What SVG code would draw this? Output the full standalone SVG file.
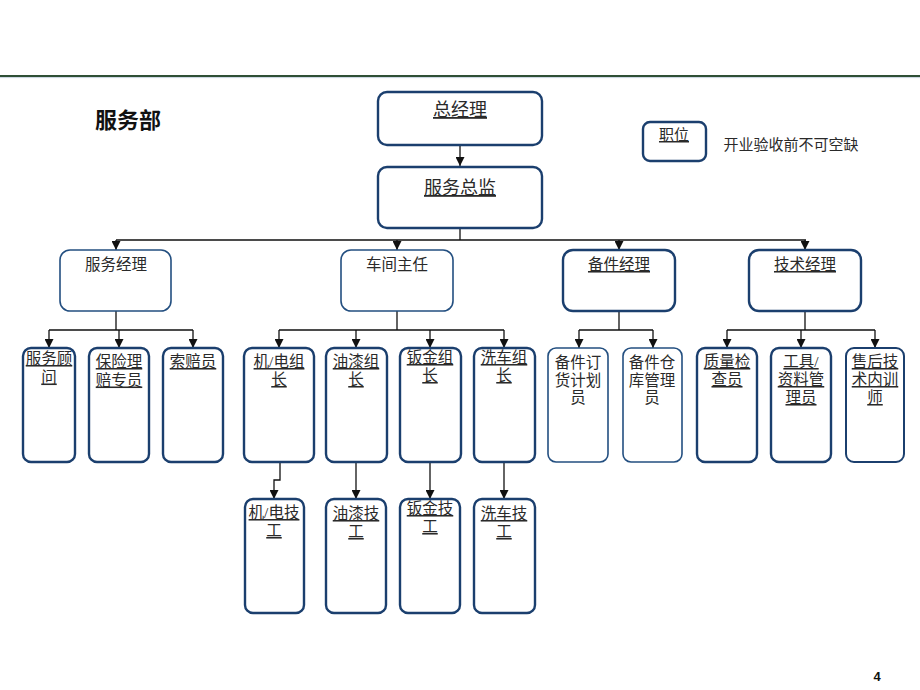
<svg xmlns="http://www.w3.org/2000/svg" width="920" height="690" viewBox="0 0 920 690">
<style>
.bx{fill:#fff;stroke:#1b3f6e;stroke-width:2.4}
.bt{fill:#fff;stroke:#234f80;stroke-width:1.6}
.t{font-family:"Liberation Serif","Noto Sans CJK SC",serif;font-size:15.5px;fill:#2a2a2a;text-anchor:middle}
.u{text-decoration:underline}
.big{font-size:18px}
.c{fill:none;stroke:#111;stroke-width:1.3}
</style>
<defs>
<marker id="ah" viewBox="0 0 10 10" refX="10" refY="5" markerWidth="9" markerHeight="9" markerUnits="userSpaceOnUse" orient="auto">
<path d="M0,0 L10,5 L0,10 z" fill="#111"/>
</marker>
</defs>
<rect width="920" height="690" fill="#fff"/>
<line x1="0" y1="76" x2="920" y2="76" stroke="#2f4f35" stroke-width="2"/>
<line x1="0" y1="77.6" x2="920" y2="77.6" stroke="#b8c6d6" stroke-width="0.8"/>
<text x="128" y="128" style="font-family:'Liberation Sans','Noto Sans CJK SC',sans-serif;font-size:22px;font-weight:bold;fill:#111;text-anchor:middle">服务部</text>
<text x="877" y="681" style="font-family:'Liberation Sans',sans-serif;font-size:13px;font-weight:bold;fill:#111;text-anchor:middle">4</text>

<g id="connectors">
<path class="c" d="M460,145 V166" marker-end="url(#ah)"/>
<path class="c" d="M460,228 V240 M116,240 H806"/>
<path class="c" d="M116,240 V250" marker-end="url(#ah)"/>
<path class="c" d="M397,240 V250" marker-end="url(#ah)"/>
<path class="c" d="M619,240 V250" marker-end="url(#ah)"/>
<path class="c" d="M805,240 V250" marker-end="url(#ah)"/>
<path class="c" d="M116,311 V330 M49,330 H193"/>
<path class="c" d="M49,330 V348" marker-end="url(#ah)"/>
<path class="c" d="M119,330 V348" marker-end="url(#ah)"/>
<path class="c" d="M193,330 V348" marker-end="url(#ah)"/>
<path class="c" d="M397,311 V330 M279,330 H504"/>
<path class="c" d="M279,330 V348" marker-end="url(#ah)"/>
<path class="c" d="M356,330 V348" marker-end="url(#ah)"/>
<path class="c" d="M430,330 V348" marker-end="url(#ah)"/>
<path class="c" d="M504,330 V348" marker-end="url(#ah)"/>
<path class="c" d="M619,311 V330 M579,330 H653"/>
<path class="c" d="M579,330 V348" marker-end="url(#ah)"/>
<path class="c" d="M653,330 V348" marker-end="url(#ah)"/>
<path class="c" d="M805,311 V330 M727,330 H875"/>
<path class="c" d="M727,330 V348" marker-end="url(#ah)"/>
<path class="c" d="M801,330 V348" marker-end="url(#ah)"/>
<path class="c" d="M875,330 V348" marker-end="url(#ah)"/>
<path class="c" d="M280,462 V480 H274 V499" marker-end="url(#ah)"/>
<path class="c" d="M356,462 V499" marker-end="url(#ah)"/>
<path class="c" d="M430,462 V499" marker-end="url(#ah)"/>
<path class="c" d="M504,462 V499" marker-end="url(#ah)"/>
</g>

<g id="n-zongjingli"><rect class="bx" x="378" y="92" width="164" height="53" rx="9"/><text class="t u big" x="460" y="116">总经理</text></g>
<g id="n-fuwuzongjian"><rect class="bx" x="378" y="167" width="164" height="61" rx="9"/><text class="t u big" x="460" y="194">服务总监</text></g>

<g id="n-legend"><rect class="bx" x="643" y="122" width="63" height="39" rx="7"/><text class="t u" x="674" y="140" style="font-size:15px">职位</text></g>
<text class="t" x="791" y="150" style="font-size:15px">开业验收前不可空缺</text>

<g id="n-fuwujingli"><rect class="bt" x="60" y="250" width="111" height="61" rx="10"/><text class="t" x="116" y="270">服务经理</text></g>
<g id="n-chejianzhuren"><rect class="bt" x="341" y="250" width="112" height="61" rx="10"/><text class="t" x="397" y="270">车间主任</text></g>
<g id="n-beijianjingli"><rect class="bx" x="563" y="250" width="112" height="61" rx="10"/><text class="t u" x="619" y="270">备件经理</text></g>
<g id="n-jishujingli"><rect class="bx" x="749" y="250" width="112" height="61" rx="10"/><text class="t u" x="805" y="270">技术经理</text></g>

<g id="n-fuwuguwen"><rect class="bx" x="23" y="348" width="52" height="114" rx="8"/><text class="t u" x="49" y="364">服务顾<tspan x="49" dy="18.5">问</tspan></text></g>
<g id="n-baoxian"><rect class="bx" x="89" y="348" width="60" height="114" rx="8"/><text class="t u" x="119" y="367">保险理<tspan x="119" dy="18.5">赔专员</tspan></text></g>
<g id="n-suopeiyuan"><rect class="bx" x="163" y="348" width="60" height="114" rx="8"/><text class="t u" x="193" y="367">索赔员</text></g>

<g id="n-jidianzuzhang"><rect class="bx" x="244" y="348" width="70" height="114" rx="8"/><text class="t u" x="279" y="367">机/电组<tspan x="279" dy="18">长</tspan></text></g>
<g id="n-youqizuzhang"><rect class="bx" x="326" y="348" width="61" height="114" rx="8"/><text class="t u" x="356" y="367">油漆组<tspan x="356" dy="18">长</tspan></text></g>
<g id="n-banjinzuzhang"><rect class="bx" x="400" y="348" width="61" height="114" rx="8"/><text class="t u" x="430" y="363">钣金组<tspan x="430" dy="18">长</tspan></text></g>
<g id="n-xichezuzhang"><rect class="bx" x="474" y="348" width="61" height="114" rx="8"/><text class="t u" x="504" y="363">洗车组<tspan x="504" dy="18">长</tspan></text></g>

<g id="n-beijiandinghuo"><rect class="bt" x="548" y="348" width="60" height="114" rx="8"/><text class="t" x="578" y="368">备件订<tspan x="578" dy="17.5">货计划</tspan><tspan x="578" dy="17.5">员</tspan></text></g>
<g id="n-beijiancangku"><rect class="bt" x="623" y="348" width="59" height="114" rx="8"/><text class="t" x="652" y="368">备件仓<tspan x="652" dy="17.5">库管理</tspan><tspan x="652" dy="17.5">员</tspan></text></g>

<g id="n-zhiliangjiancha"><rect class="bx" x="697" y="348" width="60" height="114" rx="8"/><text class="t u" x="727" y="367">质量检<tspan x="727" dy="18">查员</tspan></text></g>
<g id="n-gongjuziliao"><rect class="bx" x="771" y="348" width="60" height="114" rx="8"/><text class="t u" x="801" y="367">工具/<tspan x="801" dy="18">资料管</tspan><tspan x="801" dy="18">理员</tspan></text></g>
<g id="n-shouhoujishu"><rect class="bt" x="846" y="348" width="58" height="114" rx="8" style="stroke:#1b3f6e;stroke-width:2"/><text class="t u" x="875" y="367">售后技<tspan x="875" dy="18">术内训</tspan><tspan x="875" dy="18">师</tspan></text></g>

<g id="n-jidianjigong"><rect class="bx" x="245" y="499" width="59" height="114" rx="8"/><text class="t u" x="274" y="518">机/电技<tspan x="274" dy="18">工</tspan></text></g>
<g id="n-youqijigong"><rect class="bx" x="326" y="499" width="60" height="114" rx="8"/><text class="t u" x="356" y="519">油漆技<tspan x="356" dy="18">工</tspan></text></g>
<g id="n-banjinjigong"><rect class="bx" x="400" y="499" width="60" height="114" rx="8"/><text class="t u" x="430" y="514">钣金技<tspan x="430" dy="18">工</tspan></text></g>
<g id="n-xichejigong"><rect class="bx" x="474" y="499" width="61" height="114" rx="8"/><text class="t u" x="504" y="519">洗车技<tspan x="504" dy="18">工</tspan></text></g>
</svg>
